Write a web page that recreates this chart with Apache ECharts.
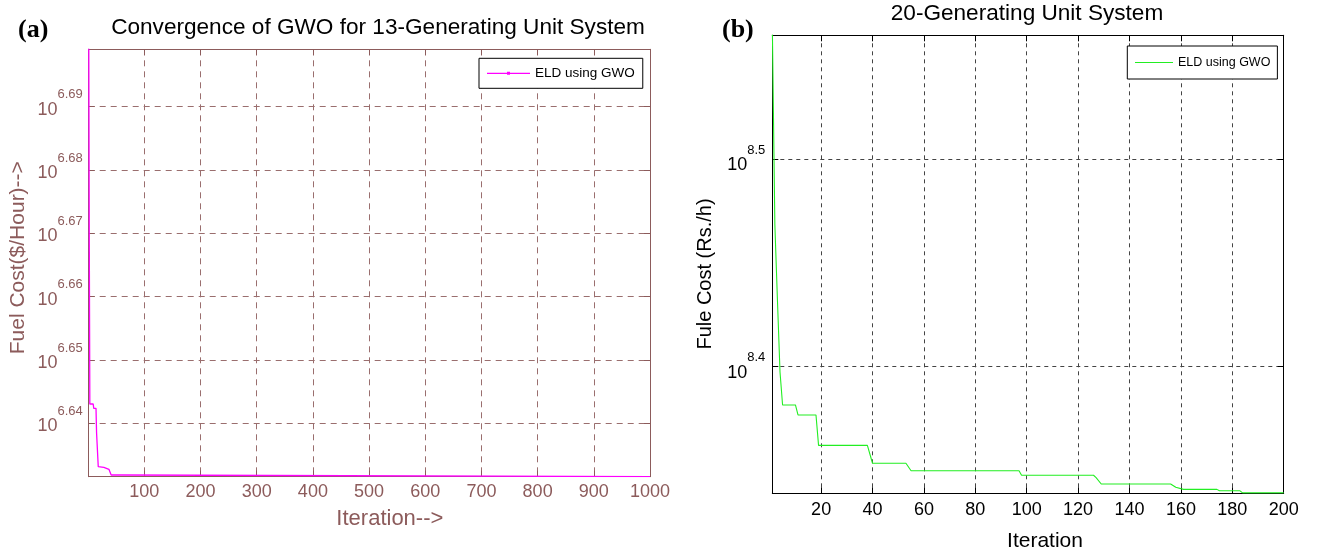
<!DOCTYPE html>
<html><head><meta charset="utf-8">
<script src="https://cdn.jsdelivr.net/npm/echarts@6/dist/echarts.min.js"></script>
<style>html,body{margin:0;padding:0;background:#fff}#c{width:1317px;height:554px}</style>
</head><body><div id="c"></div>
<script>
// ---- Panel (a): 13-generating unit system (values are log10 of fuel cost) ----
const itersA   = [1, 2, 3, 9, 10, 14, 15, 16, 17, 18, 28, 29, 37, 41, 55, 57, 1000];
const logCostA = [6.705, 6.670, 6.64305, 6.64305, 6.64237, 6.64237, 6.63852, 6.63673, 6.63491,
                  6.63315, 6.63305, 6.63274, 6.63274, 6.63184, 6.63184, 6.63159, 6.63159];
const xTicksA  = [100, 200, 300, 400, 500, 600, 700, 800, 900, 1000];
const yTicksA  = [6.64, 6.65, 6.66, 6.67, 6.68, 6.69];

// ---- Panel (b): 20-generating unit system (values are log10 of fuel cost) ----
const itersB   = [1, 2, 3, 4, 5, 10, 11, 18, 19, 38, 40, 53, 55, 97, 98, 126, 127, 129,
                  156, 158, 161, 174, 175, 183, 184, 200];
const logCostB = [8.565, 8.4683, 8.4321, 8.3974, 8.3815, 8.3815, 8.3767, 8.3767, 8.3620, 8.3620,
                  8.3534, 8.3534, 8.3498, 8.3498, 8.3476, 8.3476, 8.3465, 8.3434,
                  8.3434, 8.3418, 8.3408, 8.3408, 8.3401, 8.3401, 8.3391, 8.3391];
const xTicksB  = [20, 40, 60, 80, 100, 120, 140, 160, 180, 200];
const yTicksB  = [8.4, 8.5];

const BROWN = '#8c5b5b';
const FONT = 'Liberation Sans';

function pairs(xs, ys) { return xs.map((x, i) => [x, ys[i]]); }

function mkX(grid, ticks, min, max, color, gridColor, dash, margin, opts) {
  return Object.assign({
    type: 'value', gridIndex: grid, min: min, max: max, position: 'bottom',
    axisLine: { show: true, onZero: false, lineStyle: { color: color, width: 1 } },
    axisTick: { show: true, inside: true, length: 6, customValues: ticks, lineStyle: { color: color } },
    axisLabel: { show: true, customValues: ticks, color: color, fontFamily: FONT, fontSize: 18, margin: margin,
                 formatter: function (v) { return String(v); } },
    splitLine: { show: true, lineStyle: { color: gridColor, type: dash, width: 1 } }
  }, opts || {});
}
function mkFrameX(grid, ticks, min, max, color) {
  return {
    type: 'value', gridIndex: grid, min: min, max: max, position: 'top',
    axisLine: { show: true, onZero: false, lineStyle: { color: color, width: 1 } },
    axisTick: { show: true, inside: true, length: 6, customValues: ticks, lineStyle: { color: color } },
    axisLabel: { show: false }, splitLine: { show: false }
  };
}
function mkFrameY(grid, ticks, min, max, color) {
  return {
    type: 'value', gridIndex: grid, min: min, max: max, position: 'right',
    axisLine: { show: true, onZero: false, lineStyle: { color: color, width: 1 } },
    axisTick: { show: true, inside: true, length: 6, customValues: ticks, lineStyle: { color: color } },
    axisLabel: { show: false }, splitLine: { show: false }
  };
}

const chart = echarts.init(document.getElementById('c'), null, { renderer: 'canvas' });
chart.setOption({
  animation: false,
  backgroundColor: '#fff',
  graphic: [
    { type: 'text', x: 18, y: 30, style: { text: '(a)', font: 'bold 26px "Liberation Serif"', fill: '#000', textAlign: 'left', textVerticalAlign: 'middle', align: 'left', verticalAlign: 'middle' } },
    { type: 'text', x: 722, y: 30, style: { text: '(b)', font: 'bold 26px "Liberation Serif"', fill: '#000', textAlign: 'left', textVerticalAlign: 'middle', align: 'left', verticalAlign: 'middle' } },
    { type: 'text', x: 378, y: 28, style: { text: 'Convergence of GWO for 13-Generating Unit System', font: '22.6px "Liberation Sans"', fill: '#000', textAlign: 'center', textVerticalAlign: 'middle', align: 'center', verticalAlign: 'middle' } },
    { type: 'text', x: 1027, y: 14, style: { text: '20-Generating Unit System', font: '22.6px "Liberation Sans"', fill: '#000', textAlign: 'center', textVerticalAlign: 'middle', align: 'center', verticalAlign: 'middle' } }
  ],
  grid: [
    { left: 88.7, top: 49.3, width: 561.3, height: 427.4, containLabel: false, outerBoundsMode: 'none', show: false },
    { left: 772.3, top: 35.3, width: 511.4, height: 458, containLabel: false, outerBoundsMode: 'none', show: false }
  ],
  legend: [
    {
      left: 479, top: 58.3, orient: 'horizontal', selectedMode: false,
      padding: [8, 8, 8, 8], borderColor: '#000', borderWidth: 1, backgroundColor: '#fff',
      itemWidth: 43, itemHeight: 4,
      data: [{ name: 'ELD using GWO', icon: 'path://M0,1.5L43,1.5L43,2.6L0,2.6ZM20,0.5L23,0.5L23,3.5L20,3.5Z' }],
      textStyle: { color: '#000', fontFamily: FONT, fontSize: 13.5 }
    },
    {
      left: 1127.3, top: 46, orient: 'horizontal', selectedMode: false,
      padding: [10, 7, 10, 7.7], borderColor: '#000', borderWidth: 1, backgroundColor: '#fff',
      itemWidth: 38, itemHeight: 1,
      data: [{ name: 'ELD using GWO (b)', icon: 'path://M0,0L38,0L38,1L0,1Z' }],
      formatter: function () { return 'ELD using GWO'; },
      textStyle: { color: '#000', fontFamily: FONT, fontSize: 12.5 }
    }
  ],
  xAxis: [
    mkX(0, xTicksA, 1, 1000, BROWN, '#9a6e6e', [6, 5], 6, {
      name: 'Iteration-->', nameLocation: 'middle', nameGap: 31,
      nameTextStyle: { color: BROWN, fontFamily: FONT, fontSize: 22, padding: [0, 0, 0, 41] }
    }),
    mkFrameX(0, xTicksA, 1, 1000, BROWN),
    mkX(1, xTicksB, 1, 200, '#000', '#444', [4, 4], 8, {
      name: 'Iteration', nameLocation: 'middle', nameGap: 37,
      nameTextStyle: { color: '#000', fontFamily: FONT, fontSize: 21, padding: [0, 0, 0, 34] }
    }),
    mkFrameX(1, xTicksB, 1, 200, '#000')
  ],
  yAxis: [
    {
      type: 'value', gridIndex: 0, min: 6.63157, max: 6.69906, position: 'left',
      name: 'Fuel Cost($/Hour)-->', nameLocation: 'middle', nameRotate: 90, nameGap: 60,
      nameTextStyle: { color: BROWN, fontFamily: FONT, fontSize: 21, padding: [0, 0, 0, 10.6] },
      axisLine: { show: true, onZero: false, lineStyle: { color: BROWN, width: 1 } },
      axisTick: { show: true, inside: true, length: 6, customValues: yTicksA, lineStyle: { color: BROWN } },
      axisLabel: {
        show: true, customValues: yTicksA, margin: 6, color: BROWN, fontFamily: FONT,
        padding: [6, 0, 0, 0],
        formatter: function (v) { return '{b|10}{s|' + v.toFixed(2) + '}'; },
        rich: {
          b: { fontSize: 18, lineHeight: 18, fontFamily: FONT, color: BROWN, verticalAlign: 'bottom' },
          s: { fontSize: 13, lineHeight: 13, fontFamily: FONT, color: BROWN, verticalAlign: 'bottom', padding: [0, 0, 17.5, 0] }
        }
      },
      splitLine: { show: true, lineStyle: { color: '#9a6e6e', type: [6, 5], width: 1 } }
    },
    mkFrameY(0, yTicksA, 6.63157, 6.69906, BROWN),
    {
      type: 'value', gridIndex: 1, min: 8.3389, max: 8.5598, position: 'left',
      name: 'Fule Cost (Rs./h)', nameLocation: 'middle', nameRotate: 90, nameGap: 57,
      nameTextStyle: { color: '#000', fontFamily: FONT, fontSize: 20, padding: [0, 19.4, 0, 0] },
      axisLine: { show: true, onZero: false, lineStyle: { color: '#000', width: 1 } },
      axisTick: { show: true, inside: true, length: 6, customValues: yTicksB, lineStyle: { color: '#000' } },
      axisLabel: {
        show: true, customValues: yTicksB, margin: 7, color: '#000', fontFamily: FONT,
        padding: [12, 0, 0, 0],
        formatter: function (v) { return '{b|10}{s|' + v.toFixed(1) + '}'; },
        rich: {
          b: { fontSize: 18, lineHeight: 18, fontFamily: FONT, color: '#000', verticalAlign: 'bottom' },
          s: { fontSize: 13, lineHeight: 13, fontFamily: FONT, color: '#000', verticalAlign: 'bottom', padding: [0, 0, 17.5, 0] }
        }
      },
      splitLine: { show: true, lineStyle: { color: '#444', type: [4, 4], width: 1 } }
    },
    mkFrameY(1, yTicksB, 8.3389, 8.5598, '#000')
  ],
  series: [
    {
      name: 'ELD using GWO', type: 'line', xAxisIndex: 0, yAxisIndex: 0,
      data: pairs(itersA, logCostA), symbol: 'none', showSymbol: false, clip: true,
      itemStyle: { color: '#ff00ff' }, lineStyle: { color: '#ff00ff', width: 1.3 }, z: 5
    },
    {
      name: 'ELD using GWO (b)', type: 'line', xAxisIndex: 2, yAxisIndex: 2,
      data: pairs(itersB, logCostB), symbol: 'none', showSymbol: false, clip: true,
      itemStyle: { color: '#22ee22' }, lineStyle: { color: '#22ee22', width: 1.1 }, z: 5
    }
  ]
});
</script></body></html>
